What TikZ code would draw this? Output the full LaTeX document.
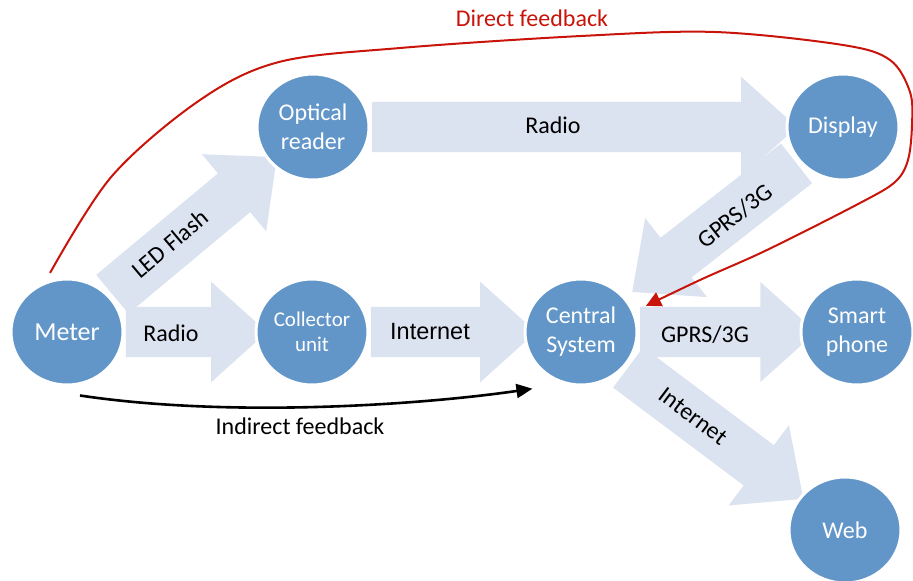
\documentclass[tikz,border=0pt]{standalone}
\usepackage{fontspec}
\setmainfont{Carlito}
\newfontfamily\arialfont{Liberation Sans}
\usetikzlibrary{arrows.meta,calc,backgrounds,shapes.geometric,shapes.arrows}
\definecolor{NodeBlue}{RGB}{98,150,201}
\definecolor{PipeGray}{RGB}{220,227,240}
\definecolor{FeedRed}{RGB}{200,20,10}
\tikzset{
  >=Latex,
  device/.style={ellipse,fill=NodeBlue,draw=white,line width=3pt,minimum width=112pt,minimum height=106pt,inner sep=0pt,align=center,text=white,font=\fontsize{24}{29}\selectfont},
  pipe/.style={single arrow,fill=PipeGray,draw=none,minimum width=100pt,single arrow head extend=25pt,single arrow tip angle=84,inner xsep=0pt,inner ysep=25pt,sloped,allow upside down,pos=.5},
  channel/.style={font=\fontsize{24}{29}\selectfont,text=black,inner sep=0pt},
  direct/.style={-{Triangle[length=15pt,width=15pt]},line width=2pt,draw=FeedRed},
  indirect/.style={-{Triangle[length=16pt,width=14pt]},line width=2.6pt,draw=black}
}
\begin{document}
\begin{tikzpicture}[x=1pt,y=-1pt]
  \useasboundingbox (0,0) rectangle (913,581);
  % devices
  \node[device,font=\fontsize{26}{30}\selectfont] (meter) at (67,332) {Meter};
  \node[device] (optical) at (313,127) {Optical\\reader};
  \node[device] (display) at (843,127) {Display};
  \node[device,font=\fontsize{21}{25}\selectfont] (collector) at (312,332) {Collector\\unit};
  \node[device] (central) at (581,332) {Central\\System};
  \node[device] (smart) at (857,332) {Smart\\phone};
  \node[device] (web) at (845,530) {Web};
  % channels
  \begin{scope}[on background layer]
    \foreach \src/\dst/\gap in {meter/optical/61pt,meter/collector/59pt,collector/central/59pt,optical/display/60pt,display/central/79pt,central/smart/55pt,central/web/66pt}
      \path let \p1=($(\src)!45pt!(\dst)$), \p2=($(\dst)!\gap!(\src)$), \n1={veclen(\x2-\x1,\y2-\y1)} in
        (\p1) -- node[pipe,minimum height=\n1] {} (\p2);
  \end{scope}
  \node[channel,rotate=40] (ledflash) at (170,244) {LED Flash};
  \node[channel] (radioa) at (171,333) {Radio};
  \node[channel,font=\arialfont\fontsize{23.5}{28}\selectfont] (interneta) at (430,332) {Internet};
  \node[channel] (radiob) at (553,125) {Radio};
  \node[channel,rotate=38] (gprsa) at (735,216) {GPRS/3G};
  \node[channel] (gprsb) at (705,335) {GPRS/3G};
  \node[channel,rotate=-37] (internetb) at (693,416) {Internet};
  % feedback
  \node[channel,text=FeedRed] (directlbl) at (532,18) {Direct feedback};
  \node[channel] (indirectlbl) at (300,426) {Indirect feedback};
  \coordinate (fbstart) at ($(meter.108)+(0,-7)$);
  \coordinate (indstart) at ($(meter.south)+(13,9)$);
  \draw[direct,shorten >=13pt] plot[smooth,tension=.55] coordinates {(fbstart) (112,176) (200,100) (279,62) (400,48) (581,36) (715,32) (843,45) (890,60) (910,92) (912,125) (908,160) (895,182) (860,203) (767,250) (700,280) (central.21)};
  \draw[indirect,shorten >=32pt] (indstart) .. controls (230,418) and (420,405) .. (central.252);
\end{tikzpicture}
\end{document}
